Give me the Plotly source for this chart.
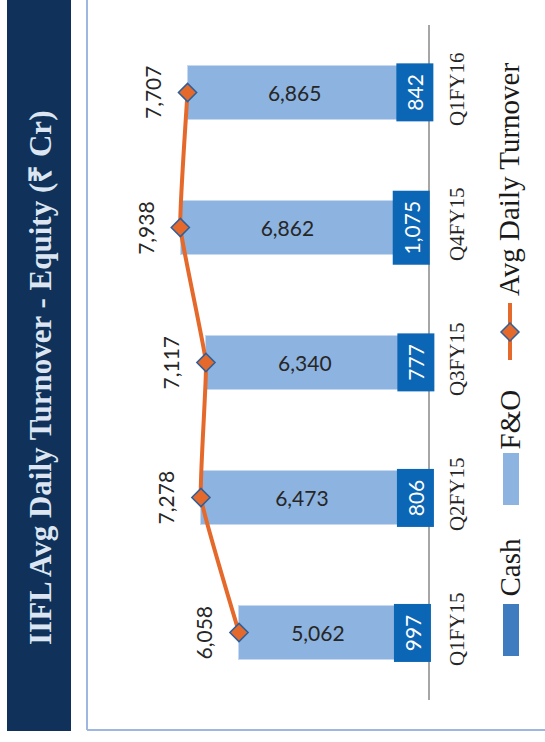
import plotly.graph_objects as go

quarters = ["Q1FY15", "Q2FY15", "Q3FY15", "Q4FY15", "Q1FY16"]
cash = [997, 806, 777, 1075, 842]
fno = [5062, 6473, 6340, 6862, 6865]
total = [6058, 7278, 7117, 7938, 7707]

title_text = "IIFL Avg Daily Turnover - Equity (₹ Cr)"
legend_names = ["Cash", "F&O", "Avg Daily Turnover"]

W, H = 545, 742
L, R, T, B = 100, 117, 25, 42
PW, PH = W - L - R, H - T - B
XMAX = PW / 0.0312

def px(x):
    return (x - L) / PW

def py(y):
    return (H - B - y) / PH

C_CASH = "#3F7CBF"
C_CASH_LBL = "#0B66B5"
C_FNO = "#8DB3E0"
C_LINE = "#E5692A"
C_NAVY = "#10325A"
C_FRAME = "#9DB7E0"

def fmt(v):
    return f"{v:,}"

fig = go.Figure()
fig.add_trace(go.Bar(
    y=quarters, x=cash, orientation="h", name=legend_names[0],
    marker=dict(color=C_CASH, line=dict(width=0)), hoverinfo="skip",
))
fig.add_trace(go.Bar(
    y=quarters, x=fno, orientation="h", name=legend_names[1],
    marker=dict(color=C_FNO, line=dict(color="#C6D9F0", width=1)),
    text=[fmt(v) for v in fno], textposition="inside", insidetextanchor="middle",
    textangle=0, textfont=dict(family="Lato", size=21, color="#262626"),
    hoverinfo="skip",
))
fig.add_trace(go.Scatter(
    y=quarters, x=total, mode="lines+markers", name=legend_names[2],
    line=dict(color=C_LINE, width=4, shape="spline", smoothing=0.3),
    marker=dict(symbol="diamond", size=14, color=C_LINE,
                line=dict(color="#2F5F9A", width=1.5)),
    hoverinfo="skip",
))

annotations = []
for q, v in zip(quarters, cash):
    s = fmt(v)
    digits = sum(ch.isdigit() for ch in s)
    commas = s.count(",")
    annotations.append(dict(
        x=v / 2, y=q, xref="x", yref="y", text=s, showarrow=False,
        textangle=-90, bgcolor=C_CASH_LBL, borderpad=0, borderwidth=0,
        width=digits * 11.3 + commas * 5 + 24, height=37,
        font=dict(family="Lato", size=21, color="white"),
        xanchor="center", yanchor="middle",
    ))
for q, v in zip(quarters, total):
    annotations.append(dict(
        x=v, y=q, xref="x", yref="y", text=fmt(v), showarrow=False,
        textangle=-90, xshift=-35,
        font=dict(family="Lato", size=21, color="#262626"),
        xanchor="center", yanchor="middle",
    ))
annotations.append(dict(
    x=px(40), y=py(378), xref="paper", yref="paper", text=f"<b>{title_text}</b>",
    showarrow=False, textangle=-90,
    font=dict(family="Liberation Serif", size=31, color="#DCE6F2"),
    xanchor="center", yanchor="middle",
))
for name, yc in zip(legend_names, [567.5, 419.5, 180]):
    annotations.append(dict(
        x=px(509), y=py(yc), xref="paper", yref="paper", text=name,
        showarrow=False, textangle=-90,
        font=dict(family="Liberation Serif", size=29, color="#1A1A1A"),
        xanchor="center", yanchor="middle",
    ))

shapes = [
    dict(type="rect", xref="paper", yref="paper", x0=px(7), x1=px(71),
         y0=py(0), y1=py(731), fillcolor=C_NAVY, line=dict(width=0), layer="below"),
    dict(type="line", xref="paper", yref="paper", x0=px(87), x1=px(87),
         y0=py(0), y1=py(730), line=dict(color=C_FRAME, width=2)),
    dict(type="line", xref="paper", yref="paper", x0=px(87), x1=px(545),
         y0=py(730), y1=py(730), line=dict(color=C_FRAME, width=2)),
    dict(type="rect", xref="paper", yref="paper", x0=px(503), x1=px(519),
         y0=py(604), y1=py(656), fillcolor=C_CASH, line=dict(width=0)),
    dict(type="rect", xref="paper", yref="paper", x0=px(503), x1=px(519),
         y0=py(453), y1=py(505), fillcolor=C_FNO, line=dict(width=0)),
    dict(type="line", xref="paper", yref="paper", x0=px(510), x1=px(510),
         y0=py(303), y1=py(360), line=dict(color=C_LINE, width=4)),
    dict(type="path", xref="paper", yref="paper", xsizemode="pixel", ysizemode="pixel",
         xanchor=px(510), yanchor=py(332), path="M -9 0 L 0 9 L 9 0 L 0 -9 Z",
         fillcolor=C_LINE, line=dict(color="#2F5F9A", width=1.5)),
]

fig.update_layout(
    width=W, height=H, margin=dict(l=L, r=R, t=T, b=B),
    paper_bgcolor="white", plot_bgcolor="white",
    barmode="stack", bargap=0.595, showlegend=False, hovermode=False,
    xaxis=dict(range=[XMAX, 0], showgrid=False, zeroline=False,
               showticklabels=False, showline=False, fixedrange=True),
    yaxis=dict(type="category", categoryorder="array", categoryarray=quarters,
               side="right", showline=True, linecolor="#A6A6A6", linewidth=1.5,
               showgrid=False, ticks="", tickangle=-90, ticklabelstandoff=9,
               fixedrange=True,
               tickfont=dict(family="Liberation Serif", size=21, color="#262626")),
    annotations=annotations, shapes=shapes,
)

fig.write_html("out.html", config={"displayModeBar": False},
               post_script="document.body.style.margin='0';")
